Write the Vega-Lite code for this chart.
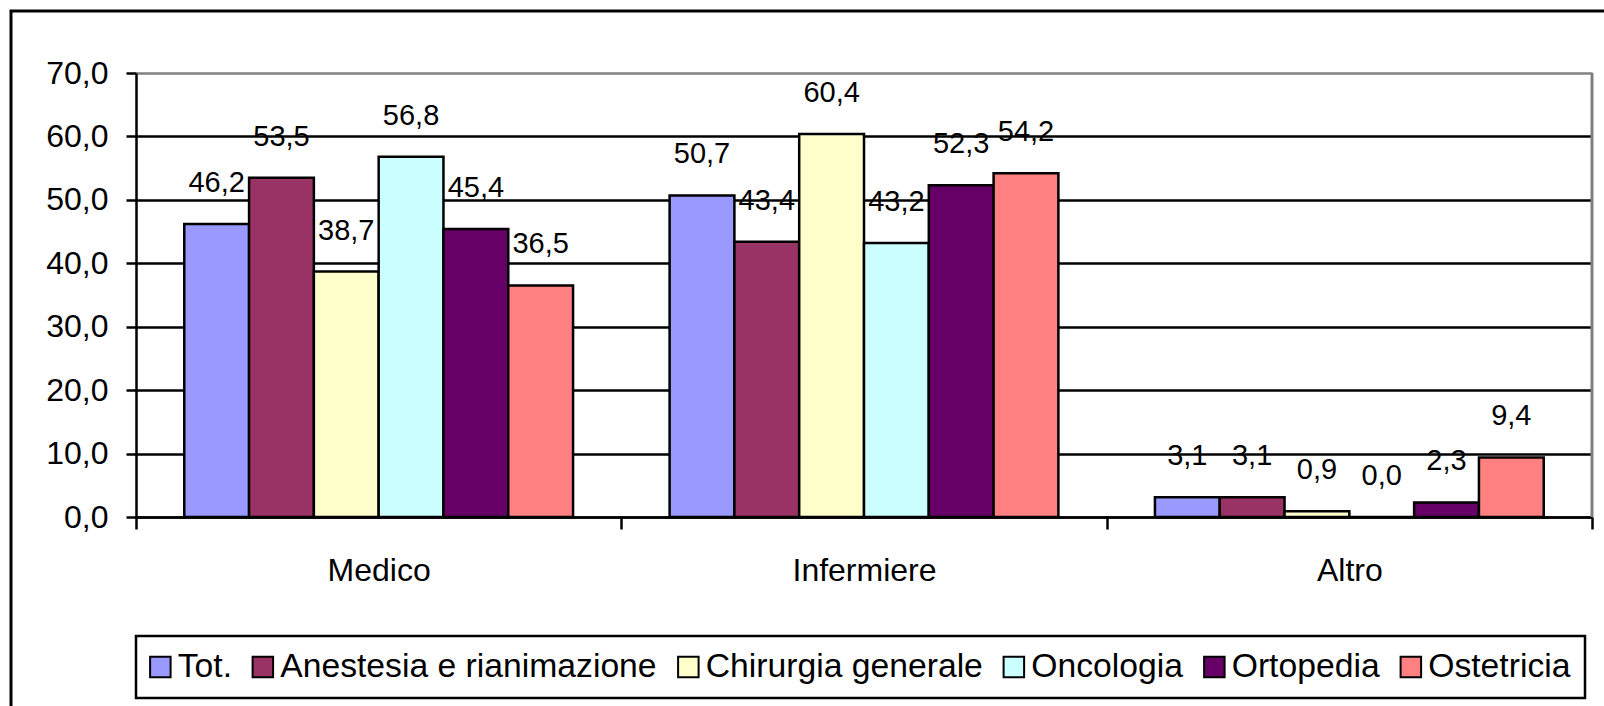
{
  "$schema": "https://vega.github.io/schema/vega-lite/v6.json",
  "width": 1597,
  "height": 699,
  "autosize": {"type": "none"},
  "padding": {"left": 11, "top": 11, "right": -4, "bottom": -4},
  "background": "white",
  "config": {
    "locale": {"number": {"decimal": ",", "thousands": ".", "grouping": [3], "currency": ["", " €"]}},
    "view": {"stroke": "black", "strokeWidth": 3},
    "font": "Liberation Sans"
  },
  "data": {
    "values": [
      {"ruolo": "Medico", "reparto": "Tot.", "valore": 46.2},
      {"ruolo": "Medico", "reparto": "Anestesia e rianimazione", "valore": 53.5},
      {"ruolo": "Medico", "reparto": "Chirurgia generale", "valore": 38.7},
      {"ruolo": "Medico", "reparto": "Oncologia", "valore": 56.8},
      {"ruolo": "Medico", "reparto": "Ortopedia", "valore": 45.4},
      {"ruolo": "Medico", "reparto": "Ostetricia", "valore": 36.5},
      {"ruolo": "Infermiere", "reparto": "Tot.", "valore": 50.7},
      {"ruolo": "Infermiere", "reparto": "Anestesia e rianimazione", "valore": 43.4},
      {"ruolo": "Infermiere", "reparto": "Chirurgia generale", "valore": 60.4},
      {"ruolo": "Infermiere", "reparto": "Oncologia", "valore": 43.2},
      {"ruolo": "Infermiere", "reparto": "Ortopedia", "valore": 52.3},
      {"ruolo": "Infermiere", "reparto": "Ostetricia", "valore": 54.2},
      {"ruolo": "Altro", "reparto": "Tot.", "valore": 3.1},
      {"ruolo": "Altro", "reparto": "Anestesia e rianimazione", "valore": 3.1},
      {"ruolo": "Altro", "reparto": "Chirurgia generale", "valore": 0.9},
      {"ruolo": "Altro", "reparto": "Oncologia", "valore": 0.0},
      {"ruolo": "Altro", "reparto": "Ortopedia", "valore": 2.3},
      {"ruolo": "Altro", "reparto": "Ostetricia", "valore": 9.4}
    ]
  },
  "layer": [
    {
      "mark": {"type": "bar", "stroke": "black", "strokeWidth": 2.5, "opacity": 1},
      "encoding": {
        "x": {
          "field": "ruolo", "type": "nominal",
          "sort": ["Medico", "Infermiere", "Altro"],
          "scale": {"range": [125, 1581], "paddingInner": 0, "paddingOuter": 0},
          "axis": {
            "orient": "bottom", "offset": -193, "title": null, "tickBand": "extent",
            "tickSize": 12, "tickWidth": 2.5, "tickColor": "black",
            "domainColor": "black", "domainWidth": 2.5,
            "labelAngle": 0, "labelFontSize": 32, "labelColor": "black", "labelPadding": 26,
            "labelFont": "Liberation Sans", "grid": false
          }
        },
        "xOffset": {
          "field": "reparto", "type": "nominal",
          "sort": ["Tot.", "Anestesia e rianimazione", "Chirurgia generale", "Oncologia", "Ortopedia", "Ostetricia"],
          "scale": {"paddingInner": 0, "paddingOuter": 0.745}
        },
        "y": {
          "field": "valore", "type": "quantitative",
          "scale": {"domain": [0, 70], "range": [506, 62], "nice": false, "zero": true},
          "axis": {
            "values": [0, 10, 20, 30, 40, 50, 60, 70], "format": ".1f", "offset": -125, "title": null,
            "domainColor": "black", "domainWidth": 2.5, "tickColor": "black", "tickWidth": 2.5, "tickSize": 10,
            "labelFontSize": 32, "labelColor": "black", "labelPadding": 18, "labelFont": "Liberation Sans",
            "labelFlush": false, "labelOverlap": false,
            "grid": true, "gridColor": {"condition": {"test": "datum.value === 70", "value": "#808080"}, "value": "black"},
            "gridWidth": 2.5, "gridOpacity": 1
          }
        },
        "color": {
          "field": "reparto", "type": "nominal",
          "scale": {
            "domain": ["Tot.", "Anestesia e rianimazione", "Chirurgia generale", "Oncologia", "Ortopedia", "Ostetricia"],
            "range": ["#9999FF", "#993366", "#FFFFCC", "#CCFFFF", "#660066", "#FF8080"]
          },
          "legend": {
            "orient": "none", "legendX": 125, "legendY": 625, "direction": "horizontal", "title": null,
            "strokeColor": "black", "padding": 14, "fillColor": "white",
            "symbolType": "square", "symbolSize": 420, "symbolStrokeColor": "black", "symbolStrokeWidth": 2,
            "symbolOpacity": 1, "symbolOffset": -6.5, "labelFontSize": 33.7, "labelFont": "Liberation Sans", "labelColor": "black",
            "labelOffset": 0.5, "columnPadding": 16.5, "labelLimit": 2000,
            "encode": {"legend": {"update": {"strokeWidth": {"value": 2.5}}}}
          }
        }
      }
    },
    {
      "mark": {"type": "text", "fontSize": 29, "baseline": "alphabetic", "dy": -32, "color": "black", "font": "Liberation Sans"},
      "encoding": {
        "x": {"field": "ruolo", "type": "nominal", "sort": ["Medico", "Infermiere", "Altro"]},
        "xOffset": {"field": "reparto", "type": "nominal", "sort": ["Tot.", "Anestesia e rianimazione", "Chirurgia generale", "Oncologia", "Ortopedia", "Ostetricia"]},
        "y": {"field": "valore", "type": "quantitative"},
        "text": {"field": "valore", "type": "quantitative", "format": ".1f"}
      }
    },
    {
      "data": {"values": [{"ruolo": "Altro"}]},
      "mark": {"type": "rule", "color": "#808080", "strokeWidth": 3},
      "encoding": {
        "x": {"field": "ruolo", "type": "nominal", "bandPosition": 1, "sort": ["Medico", "Infermiere", "Altro"]},
        "y": {"datum": 0},
        "y2": {"datum": 70}
      }
    }
  ]
}
